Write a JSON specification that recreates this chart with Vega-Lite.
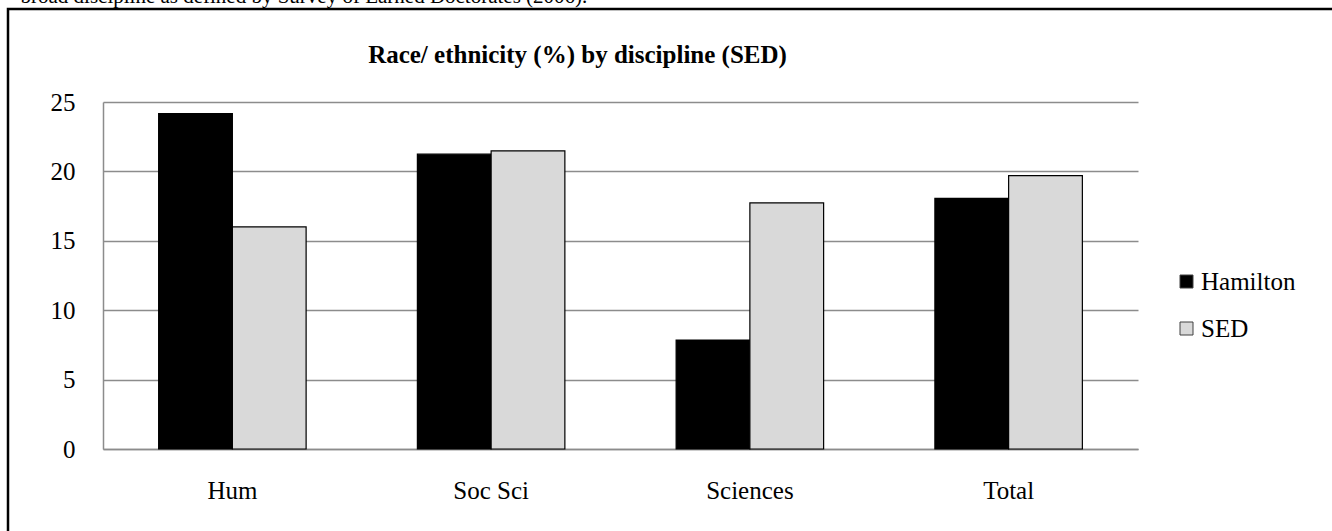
{
  "$schema": "https://vega.github.io/schema/vega-lite/v6.json",
  "autosize": {"type": "none"},
  "width": 1328,
  "height": 526,
  "padding": {"left": 8, "top": 9, "right": -4, "bottom": -4},
  "background": "white",
  "config": {
    "view": {"stroke": "black", "strokeWidth": 2.5},
    "font": "Liberation Serif",
    "axis": {
      "labelFont": "Liberation Serif",
      "titleFont": "Liberation Serif",
      "labelColor": "black",
      "titleColor": "black",
      "domainColor": "#8c8c8c",
      "domainWidth": 1.5,
      "gridColor": "#8c8c8c",
      "gridWidth": 1.5,
      "ticks": false,
      "tickSize": 0
    }
  },
  "data": {
    "values": [
      {"discipline": "Hum", "series": "Hamilton", "value": 24.17},
      {"discipline": "Hum", "series": "SED", "value": 16.0},
      {"discipline": "Soc Sci", "series": "Hamilton", "value": 21.24},
      {"discipline": "Soc Sci", "series": "SED", "value": 21.48},
      {"discipline": "Sciences", "series": "Hamilton", "value": 7.85},
      {"discipline": "Sciences", "series": "SED", "value": 17.73},
      {"discipline": "Total", "series": "Hamilton", "value": 18.05},
      {"discipline": "Total", "series": "SED", "value": 19.7}
    ]
  },
  "mark": {"type": "bar", "stroke": "black", "strokeWidth": 1.2},
  "encoding": {
    "x": {
      "field": "discipline",
      "type": "nominal",
      "sort": ["Hum", "Soc Sci", "Sciences", "Total"],
      "scale": {"range": [95, 1130], "paddingInner": 0.43, "paddingOuter": 0.215},
      "axis": {
        "orient": "bottom",
        "offset": -86,
        "labelAngle": 0,
        "labelFontSize": 25,
        "labelPadding": 29,
        "labelBaseline": "top",
        "domain": true,
        "title": "broad discipline as defined by Survey of Earned Doctorates (2006).",
        "titleFontSize": 21,
        "titleFontWeight": "normal",
        "titleAngle": 0,
        "titleAlign": "left",
        "titleBaseline": "alphabetic",
        "titleX": 12,
        "titleY": -447
      }
    },
    "xOffset": {
      "field": "series",
      "type": "nominal",
      "sort": ["Hamilton", "SED"],
      "scale": {"paddingInner": 0, "paddingOuter": 0}
    },
    "y": {
      "field": "value",
      "type": "quantitative",
      "scale": {"domain": [0, 25], "range": [440, 93], "nice": false},
      "axis": {
        "orient": "left",
        "offset": -95,
        "values": [0, 5, 10, 15, 20, 25],
        "grid": true,
        "labelFontSize": 25,
        "labelPadding": 28,
        "domain": true,
        "title": "Race/ ethnicity (%) by discipline (SED)",
        "titleFontSize": 25,
        "titleFontWeight": "bold",
        "titleAngle": 0,
        "titleAlign": "center",
        "titleBaseline": "alphabetic",
        "titleX": 474,
        "titleY": 53
      }
    },
    "color": {
      "field": "series",
      "type": "nominal",
      "sort": ["Hamilton", "SED"],
      "scale": {"domain": ["Hamilton", "SED"], "range": ["#000000", "#d9d9d9"]},
      "legend": {
        "title": null,
        "orient": "none",
        "legendX": 1166,
        "legendY": 260,
        "padding": 0,
        "symbolType": "square",
        "symbolSize": 169,
        "symbolStrokeColor": "#404040",
        "symbolStrokeWidth": 1,
        "symbolOpacity": 1,
        "labelFont": "Liberation Serif",
        "labelFontSize": 25,
        "labelColor": "black",
        "labelOffset": 2,
        "rowPadding": 21
      }
    }
  }
}
